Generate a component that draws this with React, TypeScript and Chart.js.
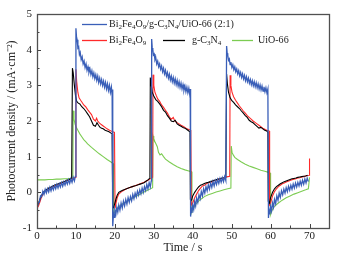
import React, { useEffect, useRef } from "react";
import { Chart, registerables } from "chart.js";

Chart.register(...registerables);

// ---------- tick labels ----------
const xTickValues = [0, 10, 20, 30, 40, 50, 60, 70];
const yTickValues = [-1, 0, 1, 2, 3, 4, 5];

// ---------- series: Bi2Fe4O9/g-C3N4/UiO-66 (2:1) ----------
const compositeTime = [
  0.0, 0.3, 0.6, 0.9, 1.2, 1.5, 1.8, 2.1, 2.4, 2.7, 3.0, 3.3, 3.6, 3.9, 4.2, 4.5, 4.8, 5.1, 5.4, 5.7, 6.0, 6.3, 6.6, 6.9, 7.2, 7.5, 7.8, 8.1, 8.4, 8.7, 9.0, 9.3, 9.6, 9.85,
  10.0, 10.15, 10.3, 10.5, 10.7, 10.9, 11.1, 11.35, 11.6, 11.85, 12.1, 12.35, 12.6, 12.85, 13.1, 13.35, 13.6, 13.85, 14.1, 14.35, 14.6, 14.85, 15.1, 15.35, 15.6, 15.85, 16.1, 16.35, 16.6, 16.85, 17.1, 17.35, 17.6, 17.85, 18.1, 18.35, 18.6, 18.85, 19.1, 19.3, 19.4,
  19.5, 19.65, 19.8, 20.0, 20.25, 20.5, 20.75, 21.0, 21.3, 21.6, 21.9, 22.2, 22.5, 22.8, 23.1, 23.4, 23.7, 24.0, 24.3, 24.6, 24.9, 25.2, 25.5, 25.8, 26.1, 26.4, 26.7, 27.0, 27.3, 27.6, 27.9, 28.2, 28.5, 28.8, 29.1, 29.35,
  29.45, 29.6, 29.75, 29.9, 30.1, 30.3, 30.5, 30.75, 31.0, 31.25, 31.5, 31.75, 32.0, 32.25, 32.5, 32.75, 33.0, 33.25, 33.5, 33.75, 34.0, 34.25, 34.5, 34.75, 35.0, 35.25, 35.5, 35.75, 36.0, 36.25, 36.5, 36.75, 37.0, 37.25, 37.5, 37.75, 38.0, 38.25, 38.5, 38.75, 39.0, 39.2, 39.35,
  39.45, 39.6, 39.8, 40.0, 40.25, 40.5, 40.75, 41.0, 41.3, 41.6, 41.9, 42.2, 42.5, 42.8, 43.1, 43.4, 43.7, 44.0, 44.3, 44.6, 44.9, 45.2, 45.5, 45.8, 46.1, 46.4, 46.7, 47.0, 47.3, 47.6, 47.9, 48.2, 48.5,
  48.7, 48.85, 49.0, 49.2, 49.4, 49.6, 49.8, 50.05, 50.3, 50.55, 50.8, 51.05, 51.3, 51.55, 51.8, 52.05, 52.3, 52.55, 52.8, 53.05, 53.3, 53.55, 53.8, 54.05, 54.3, 54.55, 54.8, 55.05, 55.3, 55.55, 55.8, 56.05, 56.3, 56.55, 56.8, 57.05, 57.3, 57.55, 57.8, 58.05, 58.3, 58.55, 58.8, 59.05, 59.3,
  59.45, 59.6, 59.8, 60.0, 60.25, 60.5, 60.75, 61.0, 61.3, 61.6, 61.9, 62.2, 62.5, 62.8, 63.1, 63.4, 63.7, 64.0, 64.3, 64.6, 64.9, 65.2, 65.5, 65.8, 66.1, 66.4, 66.7, 67.0, 67.3, 67.6, 67.9, 68.2, 68.5, 68.8, 69.1, 69.4, 69.7,
];
const compositeCurrent = [
  -0.45, -0.3, -0.28, -0.1, -0.12, 0.03, -0.06, 0.08, -0.02, 0.1, 0.01, 0.14, 0.04, 0.16, 0.07, 0.19, 0.1, 0.22, 0.12, 0.24, 0.15, 0.27, 0.17, 0.29, 0.2, 0.32, 0.23, 0.35, 0.25, 0.38, 0.28, 0.42, 0.32, 0.45,
  4.6, 4.35, 4.28, 4.05, 4.08, 3.86, 3.92, 3.72, 3.8, 3.6, 3.68, 3.5, 3.6, 3.42, 3.52, 3.36, 3.46, 3.3, 3.41, 3.24, 3.35, 3.19, 3.3, 3.14, 3.26, 3.08, 3.2, 3.04, 3.16, 3.0, 3.12, 2.95, 3.08, 2.9, 3.04, 2.86, 3.0, 2.8, 2.95, 2.72, 2.88,
  -0.95, -0.6, -0.7, -0.5, -0.62, -0.42, -0.55, -0.36, -0.5, -0.3, -0.44, -0.25, -0.38, -0.2, -0.33, -0.15, -0.28, -0.12, -0.24, -0.06, -0.18, -0.02, -0.13, 0.03, -0.08, 0.07, -0.04, 0.12, 0.0, 0.16, 0.05, 0.22, 0.1, 0.27, 0.15, 0.32,
  4.3, 4.05, 4.0, 3.85, 3.88, 3.72, 3.78, 3.6, 3.68, 3.52, 3.6, 3.45, 3.54, 3.38, 3.48, 3.32, 3.42, 3.26, 3.36, 3.2, 3.31, 3.15, 3.26, 3.1, 3.22, 3.06, 3.18, 3.02, 3.14, 2.98, 3.1, 2.94, 3.06, 2.9, 3.02, 2.86, 2.98, 2.82, 2.95, 2.79, 2.92, 2.76, 2.9,
  -0.68, -0.45, -0.58, -0.36, -0.48, -0.26, -0.38, -0.16, -0.28, -0.07, -0.18, 0.02, -0.1, 0.1, -0.02, 0.16, 0.04, 0.21, 0.09, 0.26, 0.14, 0.3, 0.18, 0.33, 0.22, 0.36, 0.25, 0.39, 0.28, 0.41, 0.3, 0.44, 0.33,
  4.1, 3.9, 3.84, 3.7, 3.74, 3.58, 3.65, 3.5, 3.58, 3.44, 3.52, 3.38, 3.46, 3.32, 3.41, 3.27, 3.36, 3.22, 3.32, 3.18, 3.28, 3.13, 3.24, 3.1, 3.2, 3.06, 3.16, 3.02, 3.13, 2.99, 3.1, 2.96, 3.07, 2.93, 3.04, 2.9, 3.01, 2.87, 2.98, 2.84, 2.96, 2.82, 2.93, 2.79, 2.9,
  -0.72, -0.5, -0.62, -0.4, -0.52, -0.3, -0.42, -0.2, -0.32, -0.1, -0.22, -0.02, -0.14, 0.04, -0.07, 0.09, -0.02, 0.13, 0.02, 0.17, 0.06, 0.2, 0.09, 0.23, 0.12, 0.26, 0.15, 0.28, 0.18, 0.31, 0.2, 0.34, 0.23, 0.37, 0.26, 0.4, 0.3,
];

// ---------- series: Bi2Fe4O9 ----------
const bfoTime = [
  0.0, 0.4, 0.8, 1.2, 1.6, 2.0, 2.5, 3.0, 3.5, 4.0, 4.5, 5.0, 5.5, 6.0, 6.5, 7.0, 7.5, 8.0, 8.5, 9.0, 9.5, 9.9,
  10.0, 10.2, 10.5, 10.8, 11.2, 11.6, 12.0, 12.5, 13.0, 13.5, 14.0, 14.5, 15.0, 15.3, 15.6, 16.0, 16.5, 17.0, 17.5, 18.0, 18.5, 19.0, 19.5, 19.9,
  20.05, 20.3, 20.6, 21.0, 21.5, 22.0, 22.5, 23.0, 23.5, 24.0, 24.5, 25.0, 25.5, 26.0, 26.5, 27.0, 27.5, 28.0, 28.5, 29.0, 29.5, 29.7,
  29.8, 30.0, 30.3, 30.6, 31.0, 31.5, 32.0, 32.5, 33.0, 33.5, 34.0, 34.5, 35.0, 35.4, 36.0, 36.5, 37.0, 37.5, 38.0, 38.5, 39.0, 39.5,
  39.65, 40.0, 40.5, 41.0, 41.5, 42.0, 42.5, 43.0, 43.5, 44.0, 44.5, 45.0, 45.5, 46.0, 46.5, 47.0, 47.5, 48.0, 48.5, 49.0, 49.5,
  49.6, 49.8, 50.1, 50.5, 51.0, 51.5, 52.0, 52.5, 53.0, 53.5, 54.0, 54.5, 55.0, 55.5, 56.0, 56.5, 57.0, 57.5, 58.0, 58.5, 59.0, 59.6,
  59.75, 60.0, 60.5, 61.0, 61.5, 62.0, 62.5, 63.0, 63.5, 64.0, 64.5, 65.0, 65.5, 66.0, 66.5, 67.0, 67.5, 68.0, 68.5, 69.0, 69.5, 69.9, 70.0,
];
const bfoCurrent = [
  -0.45, -0.38, -0.25, -0.12, -0.04, 0.02, 0.05, 0.1, 0.12, 0.16, 0.18, 0.2, 0.22, 0.25, 0.27, 0.3, 0.32, 0.34, 0.36, 0.38, 0.4, 0.42,
  3.45, 3.1, 2.8, 2.65, 2.58, 2.52, 2.45, 2.4, 2.32, 2.25, 2.18, 2.05, 2.0, 2.08, 2.0, 1.95, 1.9, 1.86, 1.82, 1.78, 1.75, 1.72, 1.7, 1.68,
  -0.45, -0.3, -0.15, -0.05, 0.0, 0.04, 0.07, 0.1, 0.12, 0.14, 0.16, 0.18, 0.2, 0.22, 0.24, 0.26, 0.28, 0.31, 0.34, 0.37, 0.4, 0.42,
  3.3, 3.0, 2.8, 2.72, 2.62, 2.55, 2.45, 2.38, 2.3, 2.22, 2.12, 2.05, 2.1, 2.0, 1.95, 1.92, 1.88, 1.85, 1.82, 1.78, 1.76, 1.74,
  -0.35, -0.3, -0.15, -0.05, 0.05, 0.12, 0.18, 0.2, 0.24, 0.27, 0.28, 0.3, 0.33, 0.34, 0.36, 0.38, 0.39, 0.4, 0.42, 0.44, 0.45,
  3.28, 3.0, 2.8, 2.68, 2.58, 2.5, 2.42, 2.35, 2.28, 2.22, 2.15, 2.1, 2.05, 2.0, 1.96, 1.92, 1.88, 1.84, 1.8, 1.77, 1.74, 1.72,
  -0.35, -0.3, -0.1, 0.02, 0.1, 0.16, 0.2, 0.24, 0.26, 0.29, 0.31, 0.33, 0.35, 0.37, 0.38, 0.4, 0.41, 0.43, 0.44, 0.46, 0.47, 0.48, 0.95,
];

// ---------- series: g-C3N4 ----------
const cnTime = [
  0.0, 0.4, 0.8, 1.2, 1.6, 2.0, 2.5, 3.0, 3.5, 4.0, 4.5, 5.0, 5.5, 6.0, 6.5, 7.0, 7.5, 8.0, 8.5, 8.9,
  9.1, 9.3, 9.6, 9.9, 10.2, 10.6, 11.0, 11.5, 12.0, 12.5, 13.0, 13.5, 14.0, 14.5, 15.0, 15.4, 15.8, 16.2, 16.6, 17.0, 17.5, 18.0, 18.5, 19.0, 19.3,
  19.45, 19.7, 20.0, 20.3, 20.6, 21.0, 21.5, 22.0, 22.5, 23.0, 23.5, 24.0, 24.5, 25.0, 25.5, 26.0, 26.5, 27.0, 27.5, 28.0, 28.5, 29.0,
  29.1, 29.3, 29.6, 30.0, 30.5, 31.0, 31.5, 32.0, 32.5, 33.0, 33.5, 34.0, 34.5, 35.0, 35.5, 36.0, 36.5, 37.0, 37.5, 38.0, 38.5, 39.0, 39.3,
  39.4, 39.7, 40.0, 40.5, 41.0, 41.5, 42.0, 42.5, 43.0, 43.5, 44.0, 44.5, 45.0, 45.5, 46.0, 46.5, 47.0, 47.5, 48.0, 48.5,
  48.7, 48.9, 49.2, 49.6, 50.0, 50.5, 51.0, 51.5, 52.0, 52.5, 53.0, 53.5, 54.0, 54.5, 55.0, 55.5, 56.0, 56.5, 57.0, 57.5, 58.0, 58.5, 59.0, 59.3,
  59.4, 59.7, 60.0, 60.5, 61.0, 61.5, 62.0, 62.5, 63.0, 63.5, 64.0, 64.5, 65.0, 65.5, 66.0, 66.5, 67.0, 67.5, 68.0, 68.5, 69.0, 69.5,
];
const cnCurrent = [
  -0.4, -0.3, -0.18, -0.08, 0.0, 0.04, 0.08, 0.12, 0.14, 0.17, 0.2, 0.22, 0.24, 0.26, 0.28, 0.3, 0.33, 0.35, 0.37, 0.4,
  3.48, 3.35, 3.0, 2.7, 2.55, 2.5, 2.48, 2.4, 2.35, 2.28, 2.2, 2.12, 2.0, 1.88, 1.85, 1.95, 1.88, 1.82, 1.8, 1.78, 1.74, 1.72, 1.7, 1.66, 1.64,
  -0.45, -0.42, -0.3, -0.18, -0.08, 0.0, 0.03, 0.06, 0.08, 0.1, 0.12, 0.14, 0.16, 0.18, 0.19, 0.21, 0.23, 0.25, 0.27, 0.31, 0.35, 0.4,
  3.22, 3.05, 2.8, 2.7, 2.6, 2.55, 2.48, 2.4, 2.3, 2.25, 2.15, 2.08, 2.0, 1.98, 2.02, 1.92, 1.88, 1.85, 1.82, 1.8, 1.76, 1.72, 1.7,
  -0.2, -0.22, -0.1, 0.0, 0.08, 0.15, 0.2, 0.22, 0.25, 0.27, 0.28, 0.3, 0.32, 0.34, 0.35, 0.37, 0.38, 0.4, 0.41, 0.43,
  3.32, 3.05, 2.8, 2.65, 2.58, 2.52, 2.45, 2.4, 2.35, 2.28, 2.22, 2.15, 2.1, 2.02, 1.98, 1.95, 1.9, 1.85, 1.8, 1.82, 1.78, 1.74, 1.72, 1.68,
  -0.25, -0.3, -0.15, 0.0, 0.1, 0.16, 0.2, 0.24, 0.27, 0.3, 0.32, 0.34, 0.36, 0.38, 0.39, 0.4, 0.42, 0.43, 0.44, 0.45, 0.46, 0.48,
];

// ---------- series: UiO-66 ----------
const uioTime = [
  0.0, 1.0, 2.0, 3.0, 4.0, 5.0, 6.0, 7.0, 8.0, 9.0, 9.2,
  9.3, 9.5, 9.8, 10.2, 10.6, 11.0, 11.5, 12.0, 12.5, 13.0, 14.0, 15.0, 16.0, 17.0, 18.0, 19.0, 19.6,
  19.7, 20.0, 20.5, 21.0, 22.0, 23.0, 24.0, 25.0, 26.0, 27.0, 28.0, 29.0, 29.7,
  29.8, 30.0, 30.3, 30.6, 30.9, 31.2, 31.6, 32.0, 32.5, 33.0, 34.0, 35.0, 36.0, 37.0, 38.0, 39.0, 39.7,
  39.8, 40.0, 40.5, 41.0, 42.0, 43.0, 44.0, 45.0, 46.0, 47.0, 48.0, 49.0, 49.8,
  49.9, 50.1, 50.4, 50.8, 51.5, 52.5, 53.5, 54.5, 55.5, 56.5, 57.5, 58.5, 59.5, 59.9,
  60.0, 60.3, 60.7, 61.2, 62.0, 63.0, 64.0, 65.0, 66.0, 67.0, 68.0, 69.0, 69.7, 70.0,
];
const uioCurrent = [
  0.35, 0.35, 0.35, 0.36, 0.36, 0.37, 0.37, 0.38, 0.38, 0.39, 0.4,
  2.29, 2.05, 1.9, 1.8, 1.72, 1.64, 1.56, 1.48, 1.42, 1.36, 1.26, 1.17, 1.08, 1.0, 0.92, 0.85, 0.8,
  -0.6, -0.55, -0.46, -0.4, -0.32, -0.26, -0.2, -0.13, -0.08, -0.02, 0.04, 0.09, 0.13,
  1.58, 1.5, 1.42, 1.35, 1.28, 1.12, 1.05, 1.08, 1.0, 0.93, 0.85, 0.78, 0.72, 0.67, 0.63, 0.6, 0.58,
  -0.55, -0.48, -0.38, -0.3, -0.2, -0.12, -0.07, -0.03, 0.01, 0.04, 0.07, 0.1, 0.12,
  1.3, 1.12, 1.05, 0.98, 0.92, 0.85, 0.79, 0.74, 0.7, 0.66, 0.62, 0.59, 0.56, 0.54,
  -0.62, -0.52, -0.44, -0.37, -0.3, -0.22, -0.15, -0.1, -0.05, -0.01, 0.03, 0.07, 0.1, 0.42,
];

// ---------- legend labels (text, isSubscript) ----------
const compositeLabel: [string, boolean][] = [
  ["Bi", false], ["2", true], ["Fe", false], ["4", true], ["O", false], ["9", true],
  ["/g-C", false], ["3", true], ["N", false], ["4", true], ["/UiO-66 (2:1)", false],
];
const bfoLabel: [string, boolean][] = [["Bi", false], ["2", true], ["Fe", false], ["4", true], ["O", false], ["9", true]];
const cnLabel: [string, boolean][] = [["g-C", false], ["3", true], ["N", false], ["4", true]];
const uioLabel: [string, boolean][] = [["UiO-66", false]];

const xTitle = "Time / s";
const yTitle = "Photocurrent density / (mA·cm⁻²)";

const COLORS = {
  composite: "#3a5fb8",
  bfo: "#ff2a2a",
  cn: "#000000",
  uio: "#7ccc52",
};

const FONT = "'Liberation Serif', 'Times New Roman', serif";

function pts(t: number[], v: number[]) {
  return t.map((x, i) => ({ x, y: v[i] }));
}

function richWidth(ctx: CanvasRenderingContext2D, parts: [string, boolean][], size: number) {
  let w = 0;
  for (const [text, sub] of parts) {
    ctx.font = `${sub ? size * 0.7 : size}px ${FONT}`;
    w += ctx.measureText(text).width;
  }
  return w;
}

function drawRich(ctx: CanvasRenderingContext2D, x: number, y: number, parts: [string, boolean][], size: number) {
  let cx = x;
  for (const [text, sub] of parts) {
    ctx.font = `${sub ? size * 0.7 : size}px ${FONT}`;
    ctx.textBaseline = "middle";
    ctx.textAlign = "left";
    ctx.fillText(text, cx, sub ? y + size * 0.3 : y);
    cx += ctx.measureText(text).width;
  }
}

const decorPlugin = {
  id: "decor",
  afterDraw(chart: any) {
    const { ctx, chartArea: a, scales } = chart;
    const xs = scales.x;
    const ys = scales.y;
    ctx.save();
    ctx.strokeStyle = "#444";
    ctx.lineWidth = 1;
    // inward ticks, bottom
    for (let v = 0; v <= 75; v += 5) {
      const px = Math.round(xs.getPixelForValue(v)) + 0.5;
      const len = v % 10 === 0 ? 4 : 2.5;
      ctx.beginPath();
      ctx.moveTo(px, a.bottom);
      ctx.lineTo(px, a.bottom - len);
      ctx.stroke();
    }
    // inward ticks, left
    for (let v = -1; v <= 5.001; v += 0.5) {
      const py = Math.round(ys.getPixelForValue(v)) + 0.5;
      const len = Math.abs(v - Math.round(v)) < 1e-6 ? 4 : 2.5;
      ctx.beginPath();
      ctx.moveTo(a.left, py);
      ctx.lineTo(a.left + len, py);
      ctx.stroke();
    }
    // frame
    ctx.lineWidth = 1.3;
    ctx.strokeStyle = "#505050";
    ctx.strokeRect(Math.round(a.left) + 0.5, Math.round(a.top) + 0.5, Math.round(a.right - a.left), Math.round(a.bottom - a.top));

    // legend (font size fitted so the first entry spans its width in the original)
    const base = 10;
    const w0 = richWidth(ctx, compositeLabel, base);
    const size = Math.max(8, Math.min(11, (base * 125) / w0));
    const L = a.left;
    const T = a.top;
    const rows: { c: string; x1: number; x2: number; tx: number; y: number; label: [string, boolean][] }[] = [
      { c: COLORS.composite, x1: L + 45, x2: L + 70, tx: L + 72, y: T + 10, label: compositeLabel },
      { c: COLORS.bfo, x1: L + 45, x2: L + 70, tx: L + 72, y: T + 26, label: bfoLabel },
      { c: COLORS.cn, x1: L + 126, x2: L + 148, tx: L + 155, y: T + 26, label: cnLabel },
      { c: COLORS.uio, x1: L + 195, x2: L + 216, tx: L + 221, y: T + 26, label: uioLabel },
    ];
    for (const r of rows) {
      ctx.strokeStyle = r.c;
      ctx.lineWidth = 1.3;
      ctx.beginPath();
      ctx.moveTo(r.x1, r.y + 0.5);
      ctx.lineTo(r.x2, r.y + 0.5);
      ctx.stroke();
      ctx.fillStyle = "#222";
      drawRich(ctx, r.tx, r.y, r.label, size);
    }
    ctx.restore();
  },
};

export default function App() {
  const ref = useRef<HTMLCanvasElement | null>(null);

  useEffect(() => {
    if (!ref.current) return;
    const common = { pointRadius: 0, borderWidth: 1.1, tension: 0, fill: false };
    const chart = new Chart(ref.current, {
      type: "line",
      data: {
        datasets: [
          { label: "composite", data: pts(compositeTime, compositeCurrent), borderColor: COLORS.composite, ...common, borderWidth: 1.3 },
          { label: "g-C3N4", data: pts(cnTime, cnCurrent), borderColor: COLORS.cn, ...common },
          { label: "Bi2Fe4O9", data: pts(bfoTime, bfoCurrent), borderColor: COLORS.bfo, ...common },
          { label: "UiO-66", data: pts(uioTime, uioCurrent), borderColor: COLORS.uio, ...common },
        ],
      },
      options: {
        animation: false,
        responsive: false,
        devicePixelRatio: 1,
        layout: { padding: { top: 14, right: 10, left: 0, bottom: 0 } },
        plugins: { legend: { display: false }, tooltip: { enabled: false } },
        scales: {
          x: {
            type: "linear",
            min: 0,
            max: 75,
            grid: { display: false, drawTicks: false },
            border: { display: false },
            afterBuildTicks: (s: any) => {
              s.ticks = xTickValues.map((value) => ({ value }));
            },
            afterFit: (s: any) => {
              s.height = 30;
            },
            ticks: { color: "#222", font: { family: FONT, size: 11 }, padding: 2, maxRotation: 0, autoSkip: false },
            title: { display: true, text: xTitle, color: "#222", font: { family: FONT, size: 12 }, padding: { top: 0, bottom: 3 } },
          },
          y: {
            type: "linear",
            min: -1,
            max: 5,
            grid: { display: false, drawTicks: false },
            border: { display: false },
            afterBuildTicks: (s: any) => {
              s.ticks = yTickValues.map((value) => ({ value }));
            },
            afterFit: (s: any) => {
              s.width = 37;
            },
            ticks: { color: "#222", font: { family: FONT, size: 11 }, padding: 5, autoSkip: false },
            title: { display: true, text: yTitle, color: "#222", font: { family: FONT, size: 12 }, padding: { top: 4.5, bottom: 0 } },
          },
        },
      },
      plugins: [decorPlugin],
    });
    return () => chart.destroy();
  }, []);

  return (
    <div style={{ position: "fixed", left: 0, top: 0, width: 339, height: 258, background: "#fff" }}>
      <canvas ref={ref} width={339} height={258} style={{ display: "block", width: 339, height: 258 }} />
    </div>
  );
}
